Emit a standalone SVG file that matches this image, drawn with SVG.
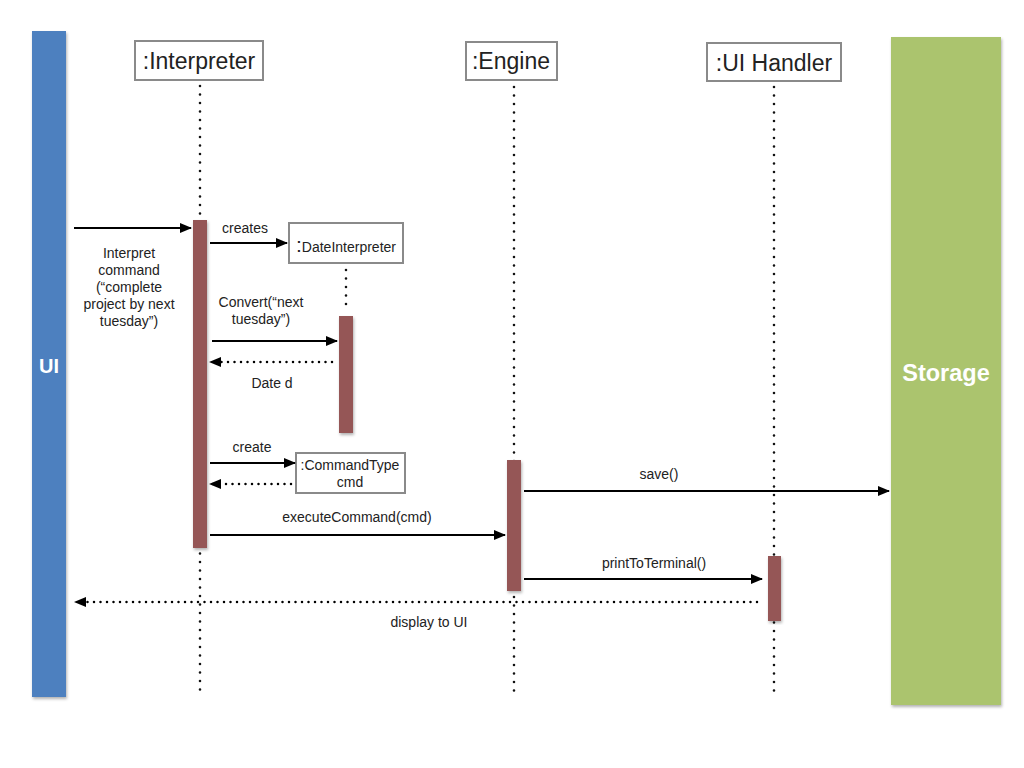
<svg xmlns="http://www.w3.org/2000/svg" width="1024" height="768" viewBox="0 0 1024 768">
<style>
.hdr{fill:#fff;stroke:#8a8a8a;stroke-width:2}
.hdrt{font-family:"Liberation Sans",Arial,sans-serif;font-size:23px;fill:#222;text-anchor:middle}
.smt{font-family:"Liberation Sans",Arial,sans-serif;font-size:14px;fill:#222;text-anchor:middle}
.lbl{font-family:"Liberation Sans",Arial,sans-serif;font-size:14px;fill:#222;text-anchor:middle}
.life{stroke:#111;stroke-width:2.6;stroke-linecap:round;stroke-dasharray:0 8.5;fill:none}
.act{fill:#955757}
.msg{stroke:#000;stroke-width:2;fill:none;marker-end:url(#ah)}
.ret{stroke:#000;stroke-width:2.5;stroke-linecap:round;stroke-dasharray:0 6.5;fill:none;marker-end:url(#ah)}
.big{font-family:"Liberation Sans",Arial,sans-serif;font-weight:bold;fill:#fff;text-anchor:middle}
</style>
<defs>
<marker id="ah" markerWidth="12" markerHeight="10" refX="11" refY="5" orient="auto" markerUnits="userSpaceOnUse">
<path d="M0,0 L12,5 L0,10 z" fill="#000"/>
</marker>
<filter id="sh" x="-20%" y="-5%" width="150%" height="110%">
<feDropShadow dx="1" dy="2" stdDeviation="1.5" flood-color="#000" flood-opacity="0.3"/>
</filter>
</defs>
<rect width="1024" height="768" fill="#fff"/>

<g id="ui">
<rect x="32" y="31" width="34" height="666" fill="#4e80bf" filter="url(#sh)"/>
<text class="big" x="49" y="373" font-size="20">UI</text>
</g>
<g id="storage">
<rect x="891" y="37" width="110" height="668" fill="#abc46e" filter="url(#sh)"/>
<text class="big" x="946" y="381" font-size="23.5">Storage</text>
</g>

<g id="interpreter">
<rect class="hdr" x="135" y="41" width="128" height="39"/>
<text class="hdrt" x="199" y="69">:Interpreter</text>
<line class="life" x1="200" y1="86" x2="200" y2="690"/>
<rect class="act" x="193" y="220" width="14" height="328" filter="url(#sh)"/>
</g>
<g id="engine">
<rect class="hdr" x="466" y="42" width="91" height="38"/>
<text class="hdrt" x="511" y="69">:Engine</text>
<line class="life" x1="514" y1="87" x2="514" y2="692"/>
<rect class="act" x="507" y="460" width="14" height="131" filter="url(#sh)"/>
</g>
<g id="uihandler">
<rect class="hdr" x="707" y="43" width="134" height="38"/>
<text class="hdrt" x="774" y="71">:UI Handler</text>
<line class="life" x1="774" y1="87" x2="774" y2="692"/>
<rect class="act" x="768" y="556" width="13" height="65" filter="url(#sh)"/>
</g>
<g id="dateinterpreter">
<rect class="hdr" x="289" y="223" width="114" height="40"/>
<text class="smt" x="346" y="252" font-size="13.5"><tspan font-size="21">:</tspan>DateInterpreter</text>
<line class="life" x1="346" y1="270" x2="346" y2="312"/>
<rect class="act" x="339" y="316" width="14" height="117" filter="url(#sh)"/>
</g>
<g id="commandtype">
<rect class="hdr" x="296" y="453" width="109" height="40"/>
<text class="smt" x="350" y="470" font-size="12.5">:CommandType</text>
<text class="smt" x="350" y="487" font-size="12.5">cmd</text>
</g>

<g id="connectors">
<line class="msg" x1="74" y1="228" x2="191" y2="228"/>
<line class="msg" x1="210" y1="243" x2="287" y2="243"/>
<line class="msg" x1="212" y1="341" x2="337" y2="341"/>
<line class="ret" x1="332" y1="362" x2="210" y2="362"/>
<line class="msg" x1="210" y1="463" x2="295" y2="463"/>
<line class="ret" x1="291" y1="484" x2="210" y2="484"/>
<line class="msg" x1="210" y1="535" x2="505" y2="535"/>
<line class="msg" x1="524" y1="491" x2="889" y2="491"/>
<line class="msg" x1="524" y1="579" x2="762" y2="579"/>
<line class="ret" x1="757" y1="602" x2="75" y2="602"/>

<text class="lbl" x="129" y="258">Interpret</text>
<text class="lbl" x="129" y="275">command</text>
<text class="lbl" x="129" y="292">(“complete</text>
<text class="lbl" x="129" y="309">project by next</text>
<text class="lbl" x="129" y="326">tuesday”)</text>
<text class="lbl" x="245" y="233">creates</text>
<text class="lbl" x="261" y="307">Convert(“next</text>
<text class="lbl" x="261" y="324">tuesday”)</text>
<text class="lbl" x="272" y="388">Date d</text>
<text class="lbl" x="252" y="452">create</text>
<text class="lbl" x="357" y="522">executeCommand(cmd)</text>
<text class="lbl" x="659" y="479">save()</text>
<text class="lbl" x="654" y="568">printToTerminal()</text>
<text class="lbl" x="429" y="627">display to UI</text>
</g>
</svg>
